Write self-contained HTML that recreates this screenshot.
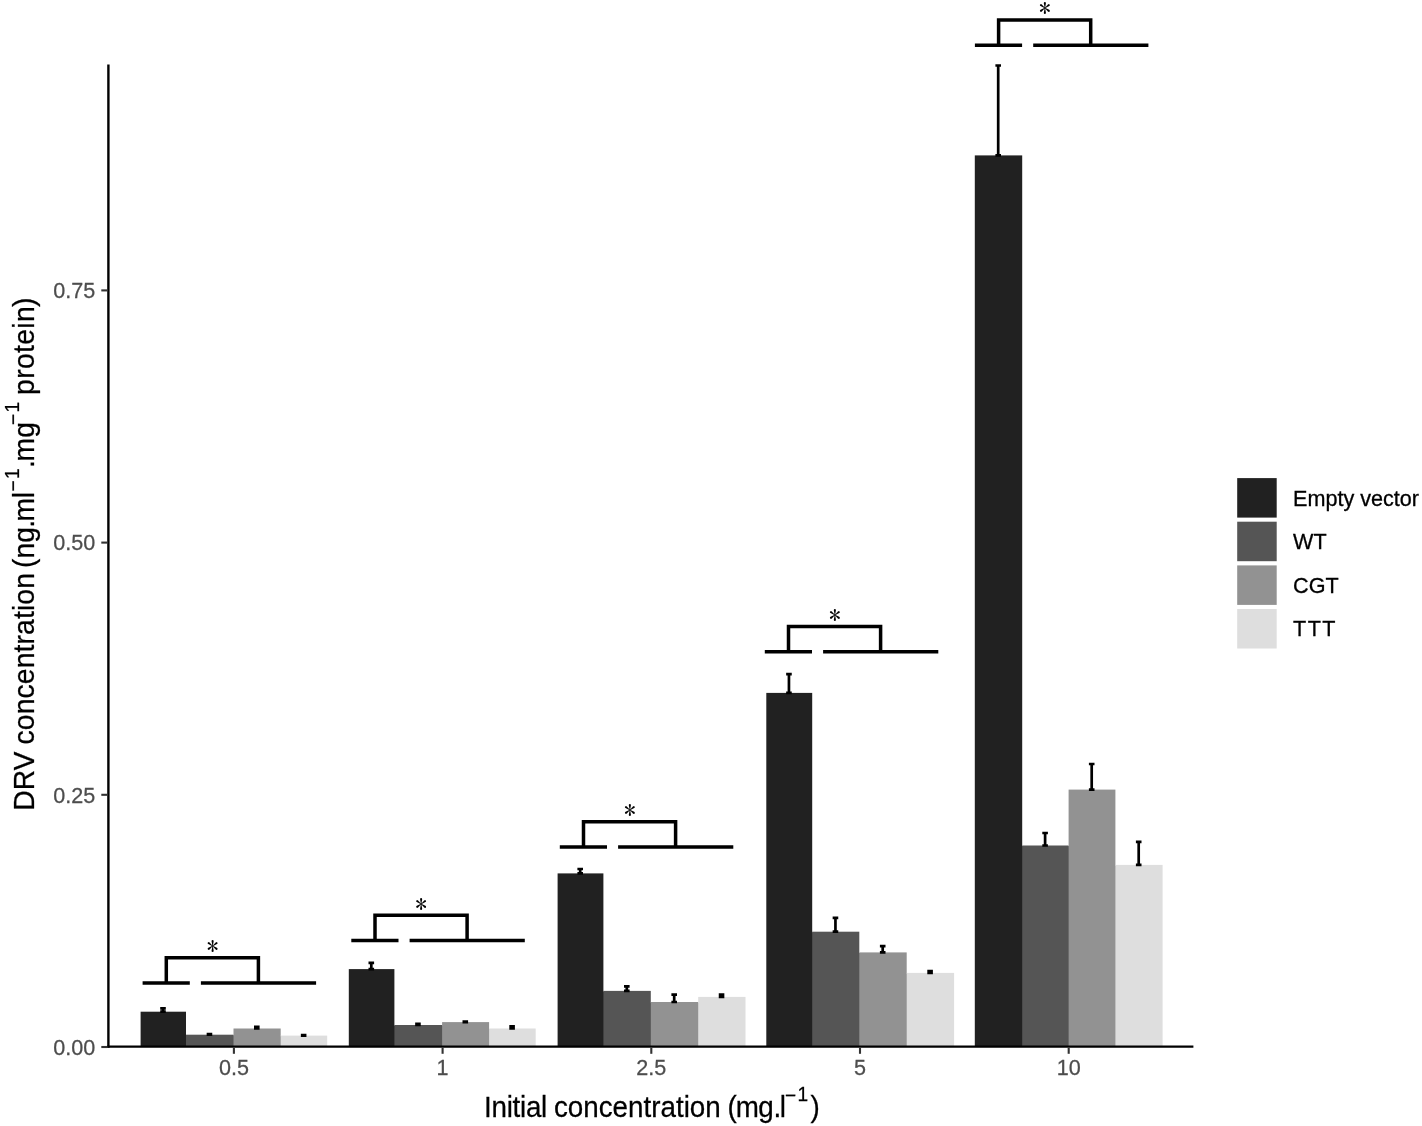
<!DOCTYPE html>
<html lang="en"><head><meta charset="utf-8"><title>DRV concentration bar chart</title>
<style>html,body{margin:0;padding:0;background:#fff}svg{display:block}text{font-family:"Liberation Sans",Arial,Helvetica,sans-serif}.tk{font-size:21.6px;fill:#4d4d4d;stroke:#4d4d4d;stroke-width:.25px}.ttl{font-size:27.8px;fill:#000;stroke:#000;stroke-width:.25px}.lg{font-size:21.6px;fill:#000;stroke:#000;stroke-width:.3px}.st{font-family:"IPAGothic","Liberation Serif",serif;font-size:23.5px;fill:#000}</style></head><body>
<svg width="1422" height="1126" viewBox="0 0 1422 1126">
<rect width="1422" height="1126" fill="#fff"/>
<g shape-rendering="geometricPrecision">
<rect x="185.00" y="1035.30" width="2" height="11.30" fill="#212121"/>
<rect x="232.50" y="1035.30" width="2" height="11.30" fill="#555555"/>
<rect x="279.70" y="1036.20" width="2" height="10.40" fill="#929292"/>
<rect x="393.40" y="1025.60" width="2" height="21.00" fill="#212121"/>
<rect x="441.10" y="1025.60" width="2" height="21.00" fill="#555555"/>
<rect x="488.10" y="1029.10" width="2" height="17.50" fill="#929292"/>
<rect x="602.40" y="991.50" width="2" height="55.10" fill="#212121"/>
<rect x="649.80" y="1002.60" width="2" height="44.00" fill="#555555"/>
<rect x="697.20" y="1002.60" width="2" height="44.00" fill="#929292"/>
<rect x="811.20" y="932.30" width="2" height="114.30" fill="#212121"/>
<rect x="858.30" y="953.00" width="2" height="93.60" fill="#555555"/>
<rect x="905.70" y="973.50" width="2" height="73.10" fill="#929292"/>
<rect x="1021.20" y="846.10" width="2" height="200.50" fill="#212121"/>
<rect x="1067.60" y="846.10" width="2" height="200.50" fill="#555555"/>
<rect x="1114.40" y="865.50" width="2" height="181.10" fill="#929292"/>
<rect x="140.60" y="1011.70" width="45.40" height="34.90" fill="#212121"/>
<rect x="186.00" y="1034.70" width="47.50" height="11.90" fill="#555555"/>
<rect x="233.50" y="1028.50" width="47.20" height="18.10" fill="#929292"/>
<rect x="280.70" y="1035.60" width="46.50" height="11.00" fill="#dedede"/>
<rect x="348.80" y="969.10" width="45.60" height="77.50" fill="#212121"/>
<rect x="394.40" y="1025.00" width="47.70" height="21.60" fill="#555555"/>
<rect x="442.10" y="1022.10" width="47.00" height="24.50" fill="#929292"/>
<rect x="489.10" y="1028.50" width="46.60" height="18.10" fill="#dedede"/>
<rect x="557.60" y="873.40" width="45.80" height="173.20" fill="#212121"/>
<rect x="603.40" y="990.90" width="47.40" height="55.70" fill="#555555"/>
<rect x="650.80" y="1002.00" width="47.40" height="44.60" fill="#929292"/>
<rect x="698.20" y="996.90" width="47.30" height="49.70" fill="#dedede"/>
<rect x="766.30" y="692.90" width="45.90" height="353.70" fill="#212121"/>
<rect x="812.20" y="931.70" width="47.10" height="114.90" fill="#555555"/>
<rect x="859.30" y="952.40" width="47.40" height="94.20" fill="#929292"/>
<rect x="906.70" y="972.90" width="47.40" height="73.70" fill="#dedede"/>
<rect x="974.80" y="155.40" width="47.40" height="891.20" fill="#212121"/>
<rect x="1022.20" y="845.50" width="46.40" height="201.10" fill="#555555"/>
<rect x="1068.60" y="789.60" width="46.80" height="257.00" fill="#929292"/>
<rect x="1115.40" y="864.90" width="47.20" height="181.70" fill="#dedede"/>
</g>
<clipPath id="pc"><rect x="100" y="64.3" width="1200" height="1000"/></clipPath>
<g stroke="#000" stroke-width="2.7" fill="none" stroke-linecap="butt" clip-path="url(#pc)">
<path d="M163.00 1012.20V1008.30M160.20 1008.30H165.80M160.20 1011.70H165.80"/>
<path d="M209.45 1035.20V1034.20M206.65 1034.20H212.25M206.65 1034.70H212.25"/>
<path d="M256.80 1029.00V1026.90M254.00 1026.90H259.60M254.00 1028.50H259.60"/>
<path d="M303.65 1036.10V1035.20M300.85 1035.20H306.45M300.85 1035.60H306.45"/>
<path d="M371.30 969.60V962.80M368.50 962.80H374.10M368.50 969.10H374.10"/>
<path d="M417.95 1025.50V1023.90M415.15 1023.90H420.75M415.15 1025.00H420.75"/>
<path d="M465.30 1022.60V1021.70M462.50 1021.70H468.10M462.50 1022.10H468.10"/>
<path d="M512.10 1029.00V1026.30M509.30 1026.30H514.90M509.30 1028.50H514.90"/>
<path d="M580.20 873.90V869.00M577.40 869.00H583.00M577.40 873.40H583.00"/>
<path d="M626.80 991.40V986.40M624.00 986.40H629.60M624.00 990.90H629.60"/>
<path d="M674.20 1002.50V994.60M671.40 994.60H677.00M671.40 1002.00H677.00"/>
<path d="M721.55 997.40V994.60M718.75 994.60H724.35M718.75 996.90H724.35"/>
<path d="M788.95 693.40V674.10M786.15 674.10H791.75M786.15 692.90H791.75"/>
<path d="M835.45 932.20V917.90M832.65 917.90H838.25M832.65 931.70H838.25"/>
<path d="M882.70 952.90V946.10M879.90 946.10H885.50M879.90 952.40H885.50"/>
<path d="M930.10 973.40V971.10M927.30 971.10H932.90M927.30 972.90H932.90"/>
<path d="M998.20 155.90V65.40M995.40 65.40H1001.00M995.40 155.40H1001.00"/>
<path d="M1045.10 846.00V833.00M1042.30 833.00H1047.90M1042.30 845.50H1047.90"/>
<path d="M1091.70 790.10V764.00M1088.90 764.00H1094.50M1088.90 789.60H1094.50"/>
<path d="M1138.70 865.40V841.90M1135.90 841.90H1141.50M1135.90 864.90H1141.50"/>
</g>
<g stroke="#000" stroke-width="2.4" fill="none"><path d="M108.4 64.5V1047.8"/><path d="M107.2 1046.6H1193.4"/></g>
<g stroke="#333" stroke-width="2.1" fill="none">
<path d="M101.3 1047.00H107.3"/>
<path d="M101.3 794.80H107.3"/>
<path d="M101.3 542.60H107.3"/>
<path d="M101.3 290.40H107.3"/>
<path d="M233.90 1047.70V1053.80"/>
<path d="M442.60 1047.70V1053.80"/>
<path d="M651.30 1047.70V1053.80"/>
<path d="M860.00 1047.70V1053.80"/>
<path d="M1068.70 1047.70V1053.80"/>
</g>
<text class="tk" transform="translate(95.2 1054.75) scale(1 1.05)" text-anchor="end">0.00</text>
<text class="tk" transform="translate(95.2 802.55) scale(1 1.05)" text-anchor="end">0.25</text>
<text class="tk" transform="translate(95.2 550.35) scale(1 1.05)" text-anchor="end">0.50</text>
<text class="tk" transform="translate(95.2 298.15) scale(1 1.05)" text-anchor="end">0.75</text>
<text class="tk" transform="translate(233.9 1075.2) scale(1 1.05)" text-anchor="middle">0.5</text>
<text class="tk" transform="translate(442.6 1075.2) scale(1 1.05)" text-anchor="middle">1</text>
<text class="tk" transform="translate(651.3 1075.2) scale(1 1.05)" text-anchor="middle">2.5</text>
<text class="tk" transform="translate(860.0 1075.2) scale(1 1.05)" text-anchor="middle">5</text>
<text class="tk" transform="translate(1068.7 1075.2) scale(1 1.05)" text-anchor="middle">10</text>
<text class="ttl" transform="translate(0 1116.6) scale(1 1.035)"><tspan x="484.1" y="0.00" letter-spacing="-0.28">Initial</tspan><tspan x="553.9" y="0.00">concentration</tspan><tspan x="727.4" y="0.00" letter-spacing="-0.8">(mg</tspan><tspan x="773.6" y="0.00">.</tspan><tspan x="779.7" y="0.00">l</tspan><tspan x="784.9" y="-13.91" font-size="19.1px">−</tspan><tspan x="797.4" y="-15.07" font-size="19.1px">1</tspan><tspan x="810.4" y="0.00">)</tspan></text>
<text class="ttl" style="font-size:28.3px" transform="translate(34.4 810.8) rotate(-90) scale(1 1.075)"><tspan x="0" y="0.00">DRV</tspan><tspan x="66.4" y="0.00" letter-spacing="0.12">concentration</tspan><tspan x="242.9" y="0.00">(ng</tspan><tspan x="283.1" y="0.00">.</tspan><tspan x="289.3" y="0.00" letter-spacing="-0.3">ml</tspan><tspan x="319.4" y="-13.49" font-size="19.1px">−</tspan><tspan x="331.9" y="-14.42" font-size="19.1px">1</tspan><tspan x="342.7" y="0.00">.</tspan><tspan x="349.4" y="0.00">mg</tspan><tspan x="385.7" y="-13.49" font-size="19.1px">−</tspan><tspan x="398.3" y="-14.42" font-size="19.1px">1</tspan><tspan x="415.9" y="0.00" letter-spacing="0.35">protein</tspan><tspan x="503.8" y="0.00">)</tspan></text>
<g stroke="#000" stroke-width="3.5" fill="none" stroke-linejoin="miter" stroke-linecap="butt">
<path d="M142.6 983.0H189.8M200.9 983.0H316.1"/>
<path d="M166.3 983.0V957.65H258.4V983.0"/>
<path d="M351.3 940.6H398.5M409.6 940.6H524.8"/>
<path d="M375.0 940.6V915.25H467.1V940.6"/>
<path d="M559.8 847.1H607.0M618.1 847.1H733.3"/>
<path d="M583.5 847.1V821.75H675.6V847.1"/>
<path d="M764.8 651.8H812.0M823.1 651.8H938.3"/>
<path d="M788.5 651.8V626.45H880.6V651.8"/>
<path d="M974.9 45.3H1022.1M1033.2 45.3H1148.4"/>
<path d="M998.6 45.3V19.95H1090.7V45.3"/>
</g>
<text class="st" x="212.5" y="955.1" text-anchor="middle">*</text>
<text class="st" x="421.2" y="912.8" text-anchor="middle">*</text>
<text class="st" x="629.8" y="819.2" text-anchor="middle">*</text>
<text class="st" x="834.8" y="623.9" text-anchor="middle">*</text>
<text class="st" x="1044.8" y="17.4" text-anchor="middle">*</text>
<rect x="1237.2" y="478.1" width="39.5" height="39.5" fill="#212121"/>
<text class="lg" transform="translate(1293.1 505.55) scale(1 1.02)">Empty vector</text>
<rect x="1237.2" y="521.7" width="39.5" height="39.5" fill="#555555"/>
<text class="lg" transform="translate(1293.1 549.15) scale(1 1.02)">WT</text>
<rect x="1237.2" y="565.4" width="39.5" height="39.5" fill="#929292"/>
<text class="lg" transform="translate(1293.1 592.85) scale(1 1.02)">CGT</text>
<rect x="1237.2" y="609.0" width="39.5" height="39.5" fill="#dedede"/>
<text class="lg" transform="translate(1293.1 636.45) scale(1 1.02)" letter-spacing="1.4">TTT</text>
</svg></body></html>
